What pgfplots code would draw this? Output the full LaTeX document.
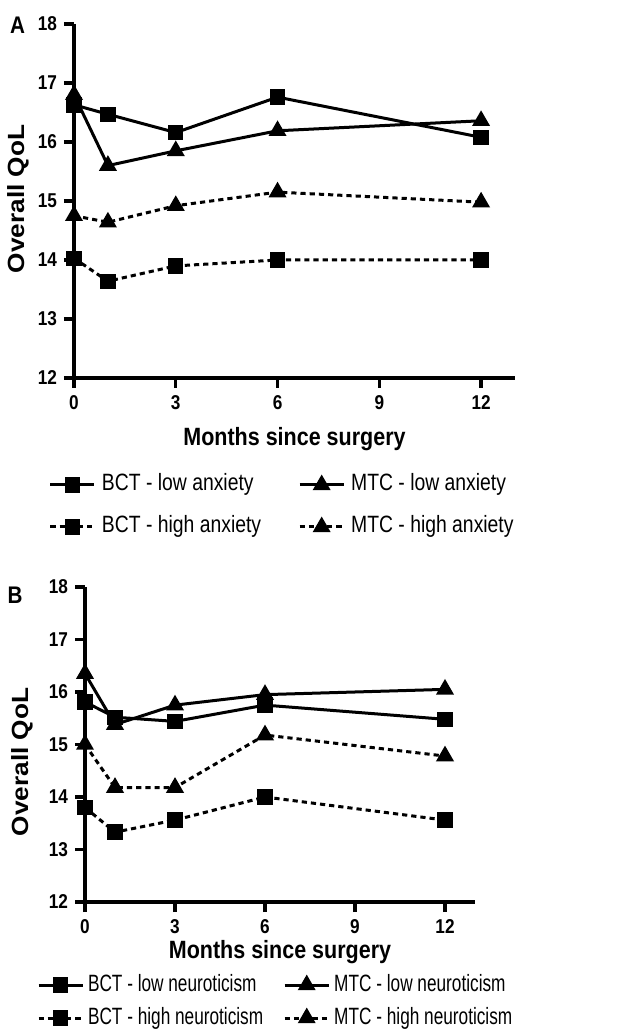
\documentclass[border=0pt]{standalone}
\usepackage{fontspec}
\setmainfont[FakeStretch=0.86]{Liberation Sans}
\newfontfamily\legA[FakeStretch=0.82]{Liberation Sans}
\newfontfamily\legB[FakeStretch=0.73]{Liberation Sans}
\newfontfamily\ylabfont[FakeStretch=1.12]{Liberation Sans}
\usepackage{pgfplots}
\pgfplotsset{compat=1.18}

% 1 px of the reference = 0.5pt
\pgfplotsset{
  qolaxis/.style={
    scale only axis, enlargelimits=false, clip=false,
    xmin=0, xmax=13, ymin=12, ymax=18,
    xtick={0,3,6,9,12}, ytick={12,13,...,18},
    axis x line*=bottom, axis y line*=left,
    axis line style={line width=2pt, -},
    tick style={line width=1.6pt, black},
    tick align=outside, major tick length=5pt,
    ticklabel style={font=\fontsize{10}{10}\selectfont\bfseries},
    /pgf/number format/assume math mode=true,
    legend cell align=left,
    legend image code/.code={%
      \draw[mark repeat=2, mark phase=2, ##1] plot coordinates {(0pt,0pt) (11pt,0pt) (22pt,0pt)};},
  },
  solidln/.style={black, line width=1.5pt, solid},
  dashln/.style={black, line width=1.5pt, dash pattern=on 2.6pt off 2pt},
  sq/.style={mark=square*, mark size=3.1pt, mark options={solid}},
  tri/.style={mark=triangle*, mark size=3.7pt, mark options={solid}},
}

\begin{document}
\begin{tikzpicture}
\useasboundingbox (0,0) rectangle (316.5pt,516.5pt);

% ---------------- panel A: anxiety
\begin{axis}[qolaxis,
  at={(37pt,327.5pt)}, anchor=south west,
  width=220.5pt, height=177pt,
  legend columns=2,
  legend style={draw=none, fill=none, inner sep=0pt, outer sep=0pt,
    at={(-0.0567,-0.271)}, anchor=north west, row sep=10pt,
    font=\legA\fontsize{11.8}{12}\selectfont,
    nodes={inner sep=0pt, text height=8.5pt, text depth=2.5pt},
    /tikz/every odd column/.append style={column sep=3pt},
    /tikz/every even column/.append style={column sep=18.5pt}},
]
\addplot[solidln, sq] coordinates {(0,16.63) (1,16.47) (3,16.16) (6,16.76) (12,16.08)};
\addlegendentry{BCT - low anxiety}
\addplot[solidln, tri] coordinates {(0,16.80) (1,15.60) (3,15.85) (6,16.19) (12,16.36)};
\addlegendentry{MTC - low anxiety}
\addplot[dashln, sq] coordinates {(0,14.03) (1,13.64) (3,13.90) (6,14.00) (12,14.00)};
\addlegendentry{BCT - high anxiety}
\addplot[dashln, tri] coordinates {(0,14.75) (1,14.64) (3,14.92) (6,15.15) (12,14.98)};
\addlegendentry{MTC - high anxiety}
\end{axis}

% ---------------- panel B: neuroticism
\begin{axis}[qolaxis,
  at={(42.5pt,65.5pt)}, anchor=south west,
  width=195pt, height=157.5pt,
  legend columns=2,
  legend style={draw=none, fill=none, inner sep=0pt, outer sep=0pt,
    at={(-0.123,-0.2286)}, anchor=north west, row sep=5.5pt,
    font=\legB\fontsize{11.8}{12}\selectfont,
    nodes={inner sep=0pt, text height=8.5pt, text depth=2.5pt},
    /tikz/every odd column/.append style={column sep=2pt},
    /tikz/every even column/.append style={column sep=10pt}},
]
\addplot[solidln, sq] coordinates {(0,15.81) (1,15.52) (3,15.44) (6,15.75) (12,15.48)};
\addlegendentry{BCT - low neuroticism}
\addplot[solidln, tri] coordinates {(0,16.35) (1,15.38) (3,15.75) (6,15.95) (12,16.05)};
\addlegendentry{MTC - low neuroticism}
\addplot[dashln, sq] coordinates {(0,13.80) (1,13.33) (3,13.56) (6,14.00) (12,13.56)};
\addlegendentry{BCT - high neuroticism}
\addplot[dashln, tri] coordinates {(0,15.00) (1,14.18) (3,14.18) (6,15.18) (12,14.78)};
\addlegendentry{MTC - high neuroticism}
\end{axis}

% labels
\node[font=\fontsize{12.5}{13}\selectfont\bfseries] at (147.25pt,297pt) {Months since surgery};
\node[font=\fontsize{12.5}{13}\selectfont\bfseries] at (140pt,40.5pt) {Months since surgery};
\node[rotate=90, font=\ylabfont\fontsize{11.7}{12}\selectfont\bfseries] at (9pt,417pt) {Overall QoL};
\node[rotate=90, font=\ylabfont\fontsize{11.7}{12}\selectfont\bfseries] at (11pt,135.5pt) {Overall QoL};
\node[font=\fontsize{12}{12}\selectfont\bfseries] at (8.75pt,504pt) {A};
\node[font=\fontsize{12}{12}\selectfont\bfseries] at (7.5pt,219pt) {B};
\end{tikzpicture}
\end{document}
